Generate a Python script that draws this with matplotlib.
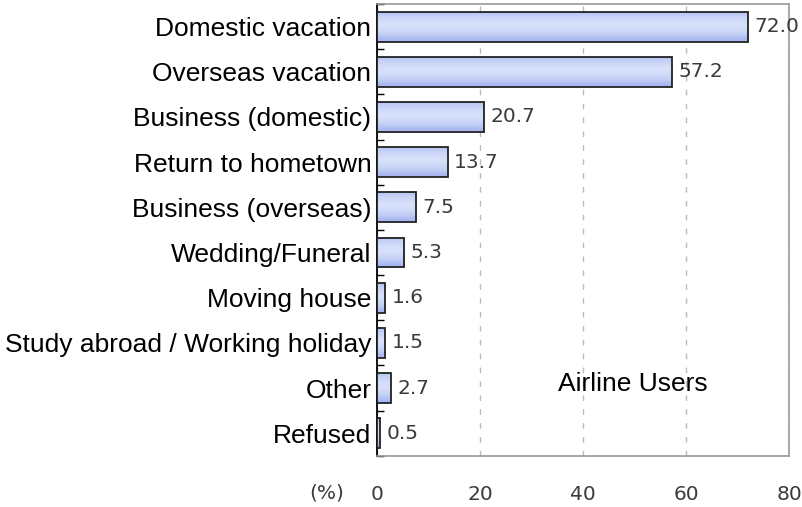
import matplotlib.pyplot as plt
import numpy as np
from matplotlib.patches import Rectangle

categories = ['Domestic vacation', 'Overseas vacation', 'Business (domestic)',
              'Return to hometown', 'Business (overseas)', 'Wedding/Funeral',
              'Moving house', 'Study abroad / Working holiday', 'Other', 'Refused']
values = [72.0, 57.2, 20.7, 13.7, 7.5, 5.3, 1.6, 1.5, 2.7, 0.5]
xticks = [0, 20, 40, 60, 80]

num_font = ['Liberation Sans Narrow', 'DejaVu Sans']
lab_font = ['Liberation Sans', 'DejaVu Sans']

fig = plt.figure(figsize=(8.02, 5.07), dpi=100)
ax = fig.add_axes([0.470, 0.101, 0.514, 0.891])

y = np.arange(len(categories))
h = 0.66

# vertical gradient inside each bar
t = np.linspace(-1, 1, 64)
shade = np.clip(1 - np.abs(t + 0.15) ** 1.8, 0, 1)
c_edge = np.array([0.66, 0.72, 0.94])
c_mid = np.array([0.84, 0.88, 0.98])
grad = c_edge[None, :] + (c_mid - c_edge)[None, :] * shade[:, None]
grad = grad[:, None, :]
for yi, v in zip(y, values):
    ax.imshow(grad, extent=[0, v, yi + h / 2, yi - h / 2], aspect='auto', zorder=3.5)
    ax.barh(yi, v, height=h, fill=False, edgecolor='#222222', linewidth=1.3, zorder=4)
    ax.text(v + 1.3, yi, f'{v:.1f}', va='center', ha='left', fontsize=14.5,
            family=num_font, color='#3a3a3a', zorder=5)

ax.set_xlim(0, 80)
ax.set_ylim(len(categories) - 0.5, -0.5)
ax.set_xticks(xticks)
ax.set_xticklabels([str(v) for v in xticks], fontsize=14.5, family=num_font, color='#3a3a3a')
ax.tick_params(axis='x', length=0, pad=21)
ax.set_yticks(y)
ax.set_yticklabels(categories, fontsize=19, family=lab_font)
ax.tick_params(axis='y', length=0, pad=4)
ax.set_yticks(np.arange(len(categories) + 1) - 0.5, minor=True)
ax.tick_params(axis='y', which='minor', direction='in', length=5, width=1)

ax.grid(axis='x', linestyle=(0, (4, 6)), color='#bbbbbb', linewidth=1, zorder=0)
for s in ['top', 'right', 'bottom']:
    ax.spines[s].set_color('#999999')
    ax.spines[s].set_linewidth(1.2)
ax.spines['left'].set_color('black')
ax.spines['left'].set_linewidth(1.3)

ax.text(-0.121, -0.083, '(%)', transform=ax.transAxes, fontsize=14.5,
        family=num_font, color='#3a3a3a', ha='center', va='center')

# label box
ax.add_patch(Rectangle((0.294, 0.084), 0.665, 0.166, transform=ax.transAxes,
                       fc='white', ec='none', zorder=1))
ax.text(0.62, 0.16, 'Airline Users', transform=ax.transAxes, fontsize=19,
        family=lab_font, ha='center', va='center', zorder=2)

plt.savefig('out.png', dpi=100)
